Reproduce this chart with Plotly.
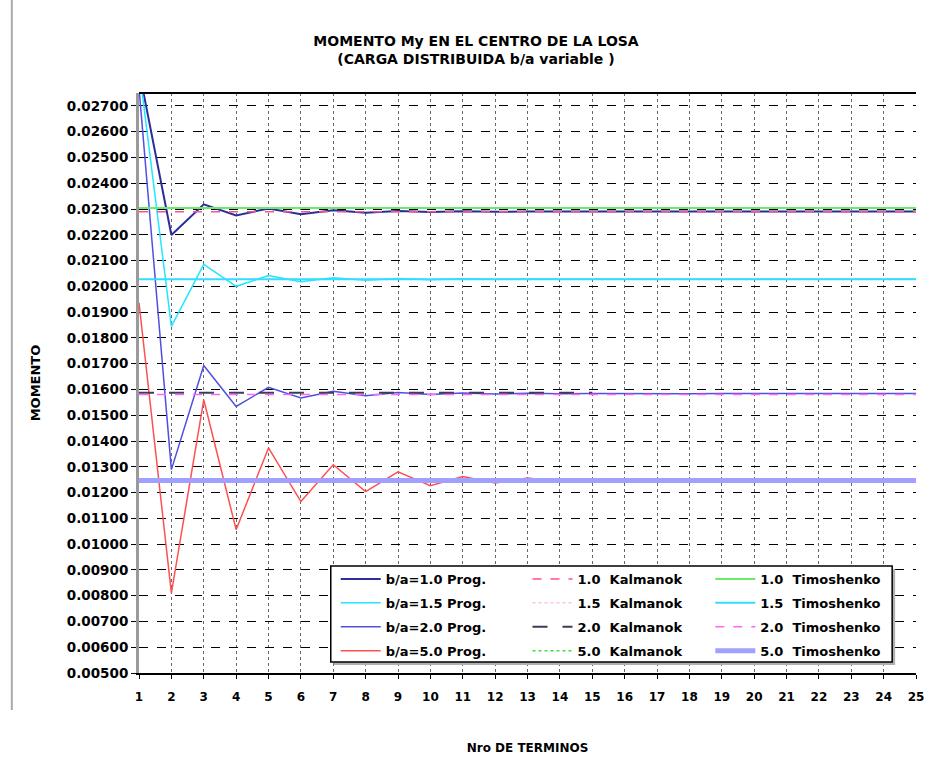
import plotly.graph_objects as go

# Number of series terms
terminos = list(range(1, 26))

# Program results (moment My at slab centre) for each b/a ratio
prog_10 = [0.02840, 0.02199, 0.02318, 0.02275, 0.02302, 0.02280, 0.02295, 0.02285, 0.02292, 0.02288,
           0.02291, 0.02289, 0.02290, 0.02289, 0.02290, 0.02290, 0.02290, 0.02290, 0.02290, 0.02290,
           0.02290, 0.02290, 0.02290, 0.02290, 0.02290]
prog_15 = [0.02850, 0.01845, 0.02085, 0.02000, 0.02042, 0.02018, 0.02033, 0.02024, 0.02030, 0.02026,
           0.02029, 0.02027, 0.02028, 0.02027, 0.02028, 0.02027, 0.02027, 0.02027, 0.02027, 0.02027,
           0.02027, 0.02027, 0.02027, 0.02027, 0.02027]
prog_20 = [0.02770, 0.01289, 0.01693, 0.01534, 0.01608, 0.01567, 0.01593, 0.01576, 0.01588, 0.01580,
           0.01586, 0.01582, 0.01585, 0.01583, 0.01584, 0.01583, 0.01584, 0.01583, 0.01584, 0.01584,
           0.01584, 0.01584, 0.01584, 0.01584, 0.01584]
prog_50 = [0.01936, 0.00810, 0.01560, 0.01056, 0.01373, 0.01165, 0.01308, 0.01204, 0.01280, 0.01227,
           0.01262, 0.01237, 0.01256, 0.01242, 0.01252, 0.01245, 0.01250, 0.01246, 0.01249, 0.01247,
           0.01248, 0.01247, 0.01248, 0.01247, 0.01248]

# Reference values (constant with number of terms)
kalmanok_10 = [0.02289] * 25
kalmanok_15 = [0.02027] * 25
kalmanok_20 = [0.01587] * 15
kalmanok_50 = [0.01250] * 25
timoshenko_10 = [0.02304] * 25
timoshenko_15 = [0.02027] * 25
timoshenko_20 = [0.01580] * 25
timoshenko_50 = [0.01247] * 25

y_ticks = [0.005 + 0.001 * i for i in range(23)]
y_ticklabels = ["%.5f" % v for v in y_ticks]

FONT = "DejaVu Sans"
NB = "\u00a0"

fig = go.Figure()

def add(name, x, y, color, width, dash, legend, group):
    fig.add_trace(go.Scatter(
        x=x, y=y, name="<b>%s</b>" % name, mode="lines",
        legend=legend, legendgroup=group,
        line=dict(color=color, width=width, dash=dash),
    ))

# Program series (column 1 of the legend)
add("b/a=1.0 Prog.", terminos, prog_10, "#2c2c9c", 2, "solid", "legend", "p10")
add("b/a=1.5 Prog.", terminos, prog_15, "#22e6ff", 1.5, "solid", "legend", "p15")
add("b/a=2.0 Prog.", terminos, prog_20, "#5050e0", 1.5, "solid", "legend", "p20")
add("b/a=5.0 Prog.", terminos, prog_50, "#ff5050", 1.5, "solid", "legend", "p50")

# Kalmanok values (column 2)
add("1.0" + NB + NB + "Kalmanok", terminos, kalmanok_10, "#ff4f9a", 1.5, "dash", "legend2", "k10")
add("1.5" + NB + NB + "Kalmanok", terminos, kalmanok_15, "#ffa0e0", 1, "dot", "legend2", "k15")
add("2.0" + NB + NB + "Kalmanok", terminos[:15], kalmanok_20, "#3c3c58", 2, "longdash", "legend2", "k20")
add("5.0" + NB + NB + "Kalmanok", terminos, kalmanok_50, "#44dd44", 1.5, "dot", "legend2", "k50")

# Timoshenko values (column 3)
add("1.0" + NB + NB + "Timoshenko", terminos, timoshenko_10, "#66ee66", 2, "solid", "legend3", "t10")
add("1.5" + NB + NB + "Timoshenko", terminos, timoshenko_15, "#33ddff", 2, "solid", "legend3", "t15")
add("2.0" + NB + NB + "Timoshenko", terminos, timoshenko_20, "#ff66ff", 1.5, "dash", "legend3", "t20")
add("5.0" + NB + NB + "Timoshenko", terminos, timoshenko_50, "#a0a0ff", 5, "solid", "legend3", "t50")

L, R, T, B = 139, 15, 93, 93
W, H = 936, 766
pw, ph = W - L - R, H - T - B

def px_x(p):
    return (p - L) / pw

def px_y(p):
    return (H - B - p) / ph

legend_common = dict(
    font=dict(family=FONT, size=13, color="black"),
    bgcolor="rgba(0,0,0,0)", borderwidth=0,
    yanchor="top", xanchor="left", y=px_y(564),
    tracegroupgap=4, itemwidth=40,
)

fig.update_layout(
    width=W, height=H,
    margin=dict(l=L, r=R, t=T, b=B),
    paper_bgcolor="white", plot_bgcolor="white",
    font=dict(family=FONT, color="black"),
    title=dict(
        text="<b>MOMENTO My EN EL CENTRO DE LA LOSA<br>(CARGA DISTRIBUIDA b/a variable )</b>",
        x=476 / W, xanchor="center", xref="container", y=1 - 46 / H, yanchor="middle",
        font=dict(family=FONT, size=14, color="black"),
    ),
    xaxis=dict(
        range=[1, 25], tickmode="array", tickvals=terminos,
        ticktext=["<b>%d</b>" % v for v in terminos],
        tickfont=dict(family=FONT, size=12, color="black"),
        showgrid=True, gridcolor="#666666", griddash="dot", gridwidth=1,
        showline=True, linecolor="black", linewidth=2,
        ticks="outside", ticklen=4, tickcolor="black", ticklabelstandoff=8,
        zeroline=False,
        title=dict(text="<b>Nro DE TERMINOS</b>", font=dict(family=FONT, size=12), standoff=40),
    ),
    yaxis=dict(
        range=[0.005, 0.0275], tickmode="array", tickvals=y_ticks,
        ticktext=["<b>%s</b>" % t for t in y_ticklabels],
        tickfont=dict(family=FONT, size=13.5, color="black"),
        showgrid=True, gridcolor="black", griddash="dash", gridwidth=1,
        showline=True, linecolor="#9a9a9a", linewidth=3,
        ticks="outside", ticklen=5, tickcolor="black",
        zeroline=False,
        title=dict(text="<b>MOMENTO</b>", font=dict(family=FONT, size=13), standoff=24),
    ),
    showlegend=True,
    legend=dict(x=px_x(337), **legend_common),
    legend2=dict(x=px_x(530), **legend_common),
    legend3=dict(x=px_x(714), **legend_common),
    shapes=[
        # top frame of the plot area
        dict(type="line", xref="paper", yref="paper", x0=0, x1=1, y0=1, y1=1,
             line=dict(color="black", width=2)),
        # legend box shadow and frame
        dict(type="rect", xref="paper", yref="paper", layer="above",
             x0=px_x(335), x1=px_x(900), y0=px_y(665), y1=px_y(569),
             fillcolor="#b0b0b0", line=dict(width=0)),
        dict(type="rect", xref="paper", yref="paper", layer="above",
             x0=px_x(332), x1=px_x(897), y0=px_y(662), y1=px_y(566),
             fillcolor="white", line=dict(color="black", width=1.5)),
        # chart area edge
        dict(type="line", xref="paper", yref="paper", x0=px_x(11), x1=px_x(11),
             y0=px_y(0), y1=px_y(710), line=dict(color="#aaaaaa", width=2)),
    ],
)

fig.write_html("out.html")
